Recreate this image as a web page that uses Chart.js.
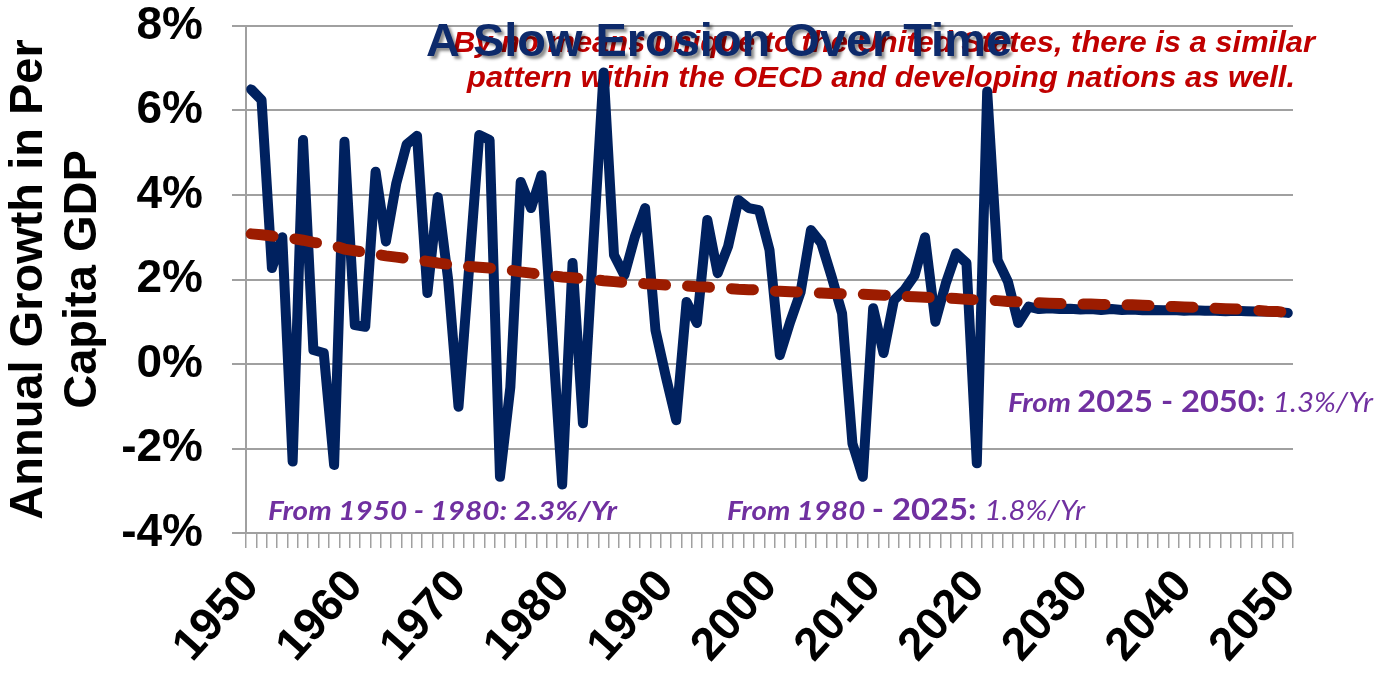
<!DOCTYPE html>
<html>
<head>
<meta charset="utf-8">
<script src="https://cdn.jsdelivr.net/npm/chart.js@4"></script>
<style>
  body { margin: 0; background: #fff; }
  #wrap { width: 1379px; height: 684px; }
</style>
</head>
<body>
<div id="wrap"><canvas id="growth" width="1379" height="684"></canvas></div>
<script>
// years 1950 - 2050
const years = []
for (let y = 1950; y <= 2050; y++) years.push(String(y))

// annual growth in per capita GDP (%)
const growthValues = [
  6.5, 6.25, 2.27, 3.0, -2.31, 5.3, 0.33, 0.26, -2.39, 5.26,
  0.92, 0.88, 4.55, 2.9, 4.28, 5.2, 5.4, 1.68, 3.95, 2.0,
  -1.01, 2.2, 5.42, 5.3, -2.67, -0.55, 4.31, 3.69, 4.47, 0.9,
  -2.85, 2.39, -1.4, 2.8, 6.9, 2.58, 2.1, 3.0, 3.69, 0.8,
  -0.3, -1.33, 1.47, 0.97, 3.41, 2.15, 2.78, 3.88, 3.69, 3.64,
  2.7, 0.21, 1.0, 1.7, 3.17, 2.86, 2.06, 1.2, -1.88, -2.67,
  1.32, 0.26, 1.51, 1.75, 2.1, 3.0, 1.0, 1.9, 2.62, 2.39,
  -2.35, 6.45, 2.46, 1.95, 0.97, 1.36, 1.3, 1.32, 1.3, 1.31,
  1.29, 1.3, 1.28, 1.3, 1.28, 1.29, 1.27, 1.28, 1.27, 1.28,
  1.26, 1.27, 1.26, 1.26, 1.25, 1.26, 1.25, 1.24, 1.24, 1.23,
  1.21,
]

// dashed trend line (%)
const trendValues = [
  3.08, 3.06, 3.03, 3.0, 2.97, 2.93, 2.88, 2.84, 2.8, 2.72,
  2.68, 2.64, 2.6, 2.56, 2.53, 2.5, 2.46, 2.43, 2.39, 2.36,
  2.33, 2.31, 2.29, 2.27, 2.25, 2.22, 2.18, 2.15, 2.12, 2.09,
  2.06, 2.04, 2.02, 2.0, 1.97, 1.95, 1.93, 1.92, 1.9, 1.89,
  1.87, 1.86, 1.85, 1.83, 1.82, 1.8, 1.79, 1.77, 1.76, 1.75,
  1.73, 1.72, 1.71, 1.7, 1.69, 1.68, 1.67, 1.66, 1.66, 1.65,
  1.64, 1.63, 1.62, 1.6, 1.59, 1.58, 1.57, 1.56, 1.55, 1.53,
  1.52, 1.51, 1.5, 1.48, 1.47, 1.46, 1.45, 1.44, 1.43, 1.43,
  1.42, 1.42, 1.41, 1.41, 1.4, 1.4, 1.39, 1.38, 1.37, 1.36,
  1.35, 1.34, 1.33, 1.32, 1.31, 1.3, 1.29, 1.27, 1.25, 1.24,
  1.22,
]

const yTicks = [-4, -2, 0, 2, 4, 6, 8]
const yTitle = ["Annual Growth in Per", "Capita GDP"]
const titleText = "A Slow Erosion Over Time"
const noteLines = [
  "By no means unique to the United States, there is a similar",
  "pattern within the OECD and developing nations as well.",
]

const PURPLE = "#7030A0"
const GRID = "#a0a0a0"

// draw text squeezed/stretched to a given width
function fitText(ctx, text, left, baseline, width) {
  const w = ctx.measureText(text).width
  ctx.save()
  ctx.translate(left, baseline)
  ctx.scale(width / w, 1)
  ctx.fillText(text, 0, 0)
  ctx.restore()
}

function fitSegments(ctx, segments, left, baseline, width) {
  let total = 0
  for (const s of segments) {
    ctx.font = s.font
    s.w = ctx.measureText(s.t).width
    total += s.w
  }
  ctx.save()
  ctx.translate(left, baseline)
  ctx.scale(width / total, 1)
  let x = 0
  for (const s of segments) {
    ctx.font = s.font
    ctx.fillText(s.t, x, 0)
    x += s.w
  }
  ctx.restore()
}

const textPlugin = {
  id: "texts",
  beforeDatasetsDraw(chart) {
    const ctx = chart.ctx
    ctx.save()
    ctx.textAlign = "left"
    ctx.textBaseline = "alphabetic"

    // red note
    ctx.fillStyle = "#C00000"
    ctx.font = "italic bold 30px 'Liberation Sans', Arial, sans-serif"
    fitText(ctx, noteLines[0], 453, 52, 862)
    fitText(ctx, noteLines[1], 467, 87, 828)

    // title with shadow
    ctx.save()
    ctx.fillStyle = "#0d2a6b"
    ctx.shadowColor = "rgba(0,0,0,0.45)"
    ctx.shadowOffsetX = 3
    ctx.shadowOffsetY = 3
    ctx.shadowBlur = 3
    ctx.font = "bold 47px 'Liberation Sans', Arial, sans-serif"
    fitText(ctx, titleText, 426, 56, 586)
    ctx.restore()

    // purple period notes
    ctx.fillStyle = PURPLE
    const bi = "italic bold 27px Lato, 'Open Sans', sans-serif"
    const it = "italic 27px Lato, 'Open Sans', sans-serif"
    const bd = "bold 30px Lato, 'Open Sans', sans-serif"
    fitSegments(ctx, [{ t: "From 1950 - 1980: 2.3%/Yr", font: bi }], 268, 520, 349)
    fitSegments(ctx, [
      { t: "From 1980 ", font: bi },
      { t: "- 2025: ", font: bd },
      { t: "1.8%/Yr", font: it },
    ], 727, 520, 358)
    fitSegments(ctx, [
      { t: "From ", font: bi },
      { t: "2025 - 2050: ", font: bd },
      { t: "1.3%/Yr", font: it },
    ], 1008, 412, 365)
    ctx.restore()
  },
}

const ctx = document.getElementById("growth")

new Chart(ctx, {
  type: "line",
  data: {
    labels: years,
    datasets: [
      {
        label: "Trend",
        data: trendValues,
        borderColor: "#9c1c00",
        borderWidth: 11,
        borderDash: [22, 22],
        borderCapStyle: "round",
        pointRadius: 0,
        tension: 0,
        order: 0,
      },
      {
        label: "Growth",
        data: growthValues,
        borderColor: "#00215f",
        borderWidth: 10,
        borderJoinStyle: "round",
        borderCapStyle: "round",
        pointRadius: 0,
        tension: 0,
        order: 1,
      },
    ],
  },
  options: {
    responsive: false,
    animation: false,
    layout: { padding: { top: 26, right: 86, left: 0, bottom: 0 } },
    plugins: {
      legend: { display: false },
      tooltip: { enabled: false },
    },
    scales: {
      x: {
        offset: true,
        grid: {
          offset: true,
          drawOnChartArea: false,
          drawTicks: true,
          tickLength: 15,
          color: GRID,
          lineWidth: 1.5,
        },
        border: { display: true, color: GRID, width: 2 },
        ticks: {
          autoSkip: false,
          minRotation: 48,
          maxRotation: 48,
          padding: 12,
          color: "#000",
          font: { family: "'Liberation Sans', Arial, sans-serif", size: 46, weight: "bold" },
          callback: function (value, index) {
            const y = Number(years[index])
            return y % 10 === 0 ? years[index] : ""
          },
        },
        afterFit: (scale) => {
          scale.height = 151
          scale.paddingLeft = 0
          scale.paddingRight = 0
        },
      },
      y: {
        min: -4,
        max: 8,
        afterBuildTicks: (scale) => { scale.ticks = yTicks.map((v) => ({ value: v })) },
        grid: {
          color: GRID,
          lineWidth: 2,
          tickLength: 14,
        },
        border: { display: true, color: GRID, width: 2 },
        ticks: {
          padding: 29,
          color: "#000",
          font: { family: "'Liberation Sans', Arial, sans-serif", size: 46, weight: "bold", lineHeight: 1.1 },
          callback: (v) => v + "%",
        },
        title: {
          display: true,
          text: yTitle,
          color: "#000",
          padding: { top: 2, bottom: 0 },
          font: { family: "'Liberation Sans', Arial, sans-serif", size: 47, weight: "bold", lineHeight: 1.15 },
        },
        afterFit: (scale) => {
          scale.width = 246
          scale.paddingTop = 0
          scale.paddingBottom = 0
        },
      },
    },
  },
  plugins: [textPlugin],
})
</script>
</body>
</html>
